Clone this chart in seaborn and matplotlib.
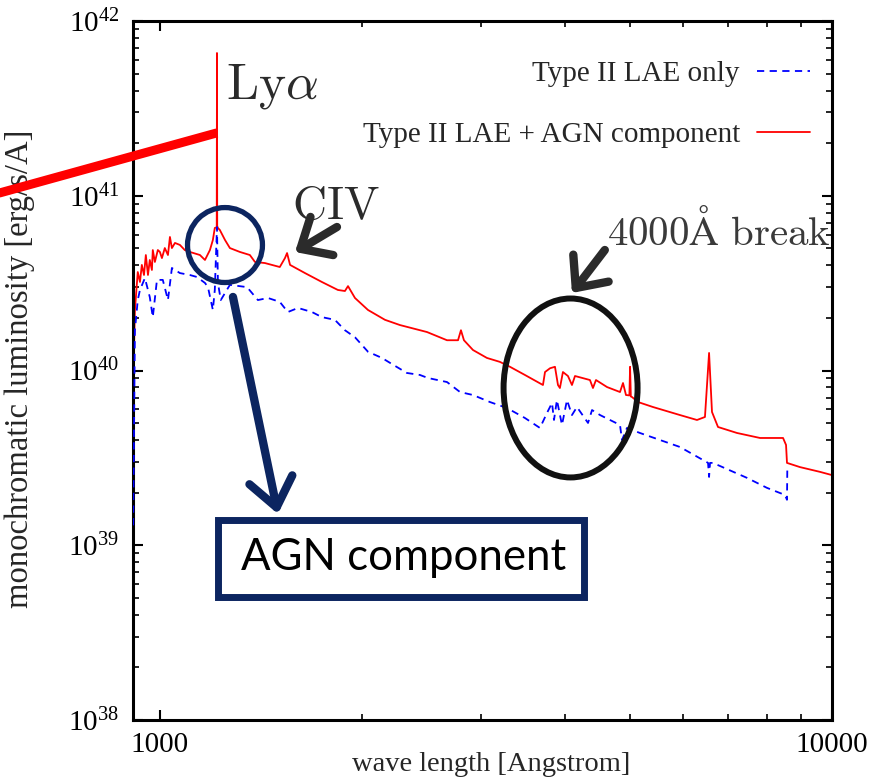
import numpy as np
import pandas as pd
import matplotlib
matplotlib.use("Agg")
import matplotlib.pyplot as plt
from matplotlib.patches import Circle, Ellipse, Rectangle
from matplotlib.ticker import LogLocator, NullFormatter, LogFormatterMathtext
import seaborn as sns

# ---------------------------------------------------------------- data
# Type II LAE + AGN component (wavelength in Angstrom, luminosity in 1e40 erg/s/A)
wave_agn = [913, 918, 927, 934, 940, 947, 953, 960, 966, 973, 976, 983, 993, 1000,
            1007, 1017, 1028, 1035, 1042, 1053, 1071, 1089, 1108, 1147, 1167, 1187,
            1199, 1207, 1215, 1216, 1217, 1220, 1228, 1250, 1271, 1315, 1361, 1385,
            1433, 1508, 1535, 1546, 1562, 1644, 1742, 1840, 1885, 1905, 1951, 2040,
            2162, 2276, 2497, 2674, 2777, 2805, 2834, 2923, 3066, 3206, 3318, 3492,
            3715, 3741, 3806, 3871, 3911, 3937, 3978, 4047, 4103, 4146, 4364, 4409,
            4455, 4627, 4837, 4887, 4937, 4995, 5007, 5020, 5040, 5145, 5416, 5940,
            6297, 6471, 6563, 6629, 6767, 7222, 7815, 8456, 8543, 8571, 8962,
            9597, 10000]
lum_agn = [0.88, 2.22, 3.66, 3.21, 4.02, 3.52, 4.58, 3.52, 4.29, 3.76, 4.89, 4.18,
           4.89, 4.77, 4.40, 5.02, 4.58, 5.81, 5.02, 5.37, 5.23, 4.89, 4.77, 4.58,
           4.29, 4.89, 5.58, 6.54, 6.60, 65.6, 6.70, 6.54, 6.37, 5.58, 5.02, 4.77,
           4.58, 4.18, 4.12, 3.91, 4.40, 4.70, 4.02, 3.61, 3.21, 2.89, 2.85, 3.04,
           2.60, 2.22, 1.95, 1.82, 1.66, 1.49, 1.49, 1.70, 1.49, 1.31, 1.18, 1.12,
           1.05, 0.943, 0.826, 0.98, 1.03, 1.05, 0.826, 0.794, 0.98, 0.93, 0.826,
           0.93, 0.882, 0.794, 0.882, 0.804, 0.753, 0.848, 0.724, 0.72, 1.05, 0.71,
           0.705, 0.66, 0.618, 0.556, 0.521, 0.542, 1.26, 0.579, 0.475, 0.439, 0.411,
           0.411, 0.375, 0.296, 0.28, 0.263, 0.252]

# Type II LAE only
wave_lae = [912.5, 918, 927, 934, 950, 966, 976, 990, 1010, 1028, 1042, 1071,
            1108, 1135, 1167, 1179, 1199, 1207, 1216, 1220, 1232, 1271, 1348,
            1399, 1448, 1508, 1550, 1605, 1684, 1742, 1821, 1885, 1951, 2040,
            2140, 2222, 2331, 2437, 2505, 2674, 2796, 2923, 3098, 3284, 3492,
            3677, 3766, 3832, 3858, 3897, 3965, 4034, 4103, 4174, 4335, 4395,
            4517, 4837, 4870, 4954, 5179, 5940, 6540, 6563, 6585, 6650, 7473,
            8003, 8511, 8571, 8580]
lum_lae = [0.13, 1.70, 2.53, 2.89, 3.38, 2.63, 2.02, 3.30, 3.30, 2.53, 3.86, 3.61,
           3.52, 3.43, 3.17, 3.00, 2.22, 2.89, 6.62, 3.17, 2.53, 3.09, 3.00,
           2.53, 2.60, 2.47, 2.16, 2.28, 2.16, 2.02, 1.95, 1.70, 1.55, 1.28,
           1.18, 1.08, 0.968, 0.943, 0.906, 0.859, 0.753, 0.724, 0.66, 0.61, 0.535,
           0.469, 0.571, 0.652, 0.521, 0.678, 0.488, 0.678, 0.556, 0.618, 0.501, 0.594,
           0.556, 0.488, 0.40, 0.469, 0.439, 0.365, 0.296, 0.246, 0.296, 0.296, 0.243,
           0.213, 0.194, 0.182, 0.27]

# power-law AGN continuum up to Ly-alpha
wave_pl = [500, 1216]
lum_pl = [8.9, 22.9]

labels = ["Type II LAE only", "Type II LAE + AGN component"]
unit = 1e40

# ---------------------------------------------------------------- style
sns.set_theme(style="ticks")
plt.rcParams["font.family"] = ["Liberation Serif", "DejaVu Serif"]
plt.rcParams["mathtext.fontset"] = "stix"

fig = plt.figure(figsize=(8.89, 7.79), dpi=100)
ax = fig.add_axes([133 / 889, 1 - 720 / 779, 699 / 889, 699 / 779])

df_lae = pd.DataFrame({"wave": wave_lae, "lum": np.array(lum_lae) * unit})
df_agn = pd.DataFrame({"wave": wave_agn, "lum": np.array(lum_agn) * unit})

sns.lineplot(data=df_lae, x="wave", y="lum", ax=ax, color="#0000ff", lw=1.3,
             linestyle=(0, (4, 3)), estimator=None, sort=False, label=labels[0],
             zorder=3)
sns.lineplot(data=df_agn, x="wave", y="lum", ax=ax, color="#ff0000", lw=1.3,
             estimator=None, sort=False, label=labels[1], zorder=2)
ax.plot(wave_pl, np.array(lum_pl) * unit, color="#ff0000", lw=6.5,
        solid_capstyle="butt", clip_on=False, zorder=4)

ax.set_xscale("log")
ax.set_yscale("log")
ax.set_xlim(912, 10000)
ax.set_ylim(1e38, 1e42)

ax.set_xticks([1000, 10000])
ax.set_xticklabels(["1000", "10000"])
ax.xaxis.set_minor_locator(LogLocator(base=10, subs=np.arange(2, 10)))
ax.xaxis.set_minor_formatter(NullFormatter())
ax.yaxis.set_major_locator(LogLocator(base=10, numticks=10))
ax.yaxis.set_major_formatter(LogFormatterMathtext())
ax.yaxis.set_minor_locator(LogLocator(base=10, subs=np.arange(2, 10), numticks=20))
ax.yaxis.set_minor_formatter(NullFormatter())

ax.tick_params(which="both", direction="in", top=True, right=True, colors="black",
               labelsize=21)
ax.tick_params(which="major", length=7, width=1.5)
ax.tick_params(axis="x", which="major", pad=9)
ax.tick_params(axis="y", which="major", pad=10)
ax.tick_params(which="minor", length=4, width=1.2)
for s in ax.spines.values():
    s.set_linewidth(2.2)
    s.set_color("black")

ax.set_xlabel("wave length [Angstrom]", fontsize=20.5)
ax.set_ylabel("monochromatic luminosity [erg/s/A]", fontsize=23.5)
ax.xaxis.set_label_coords(0.512, -0.046)
ax.yaxis.set_label_coords(-0.140, 0.502)

handles = ax.get_lines()[:2]
ax.legend(handles=handles, labels=labels, loc="upper right",
          bbox_to_anchor=(0.9685, 0.943), frameon=False, markerfirst=False,
          handlelength=1.8, handletextpad=0.6, labelspacing=1.19, borderpad=0,
          borderaxespad=0, fontsize=21)

# ---------------------------------------------------------------- annotations
gray = "#2b2b2b"
navy = "#0c2560"
ax.text(0.133, 0.8898, r"$\mathrm{Ly}\alpha$", transform=ax.transAxes,
        fontsize=37, color=gray, math_fontfamily="cm", ha="left", va="baseline")
ax.text(0.2275, 0.7167, r"$\mathrm{CIV}$", transform=ax.transAxes,
        fontsize=34, color=gray, math_fontfamily="cm", ha="left", va="baseline")
ax.text(0.678, 0.6795, r"$\mathrm{4000\AA\ break}$", transform=ax.transAxes,
        fontsize=29.5, color="#3a3a3a", math_fontfamily="cm", ha="left",
        va="baseline")

arrow_dark = dict(arrowstyle="->,head_length=0.45,head_width=0.4", lw=6,
                  color=gray, shrinkA=0, shrinkB=0, mutation_scale=40)
ax.annotate("", xy=(0.2318, 0.6695), xytext=(0.2918, 0.7053),
            xycoords="axes fraction", arrowprops=arrow_dark)
ax.annotate("", xy=(0.628, 0.6109), xytext=(0.675, 0.6724),
            xycoords="axes fraction", arrowprops=arrow_dark)
ax.annotate("", xy=(0.2074, 0.2947), xytext=(0.143, 0.6052),
            xycoords="axes fraction",
            arrowprops=dict(arrowstyle="->,head_length=0.45,head_width=0.35", lw=6,
                            color=navy, shrinkA=0, shrinkB=0, mutation_scale=45))

ax.add_patch(Circle((0.1316, 0.6795), 0.0536, transform=ax.transAxes, fill=False,
                    lw=3.8, edgecolor=navy, zorder=5))
ax.add_patch(Ellipse((0.626, 0.475), 0.1917, 0.256, transform=ax.transAxes,
                     fill=False, lw=4.3, edgecolor="#111111", zorder=5))
ax.add_patch(Rectangle((0.1209, 0.1753), 0.525, 0.1115, transform=ax.transAxes,
                       fill=True, facecolor="white", lw=5, edgecolor=navy, zorder=5))
ax.text(0.387, 0.232, "AGN component", transform=ax.transAxes, fontsize=31.5,
        family=["Lato", "DejaVu Sans"], color="black", ha="center", va="center",
        zorder=6)

fig.savefig("out.png", dpi=100)
